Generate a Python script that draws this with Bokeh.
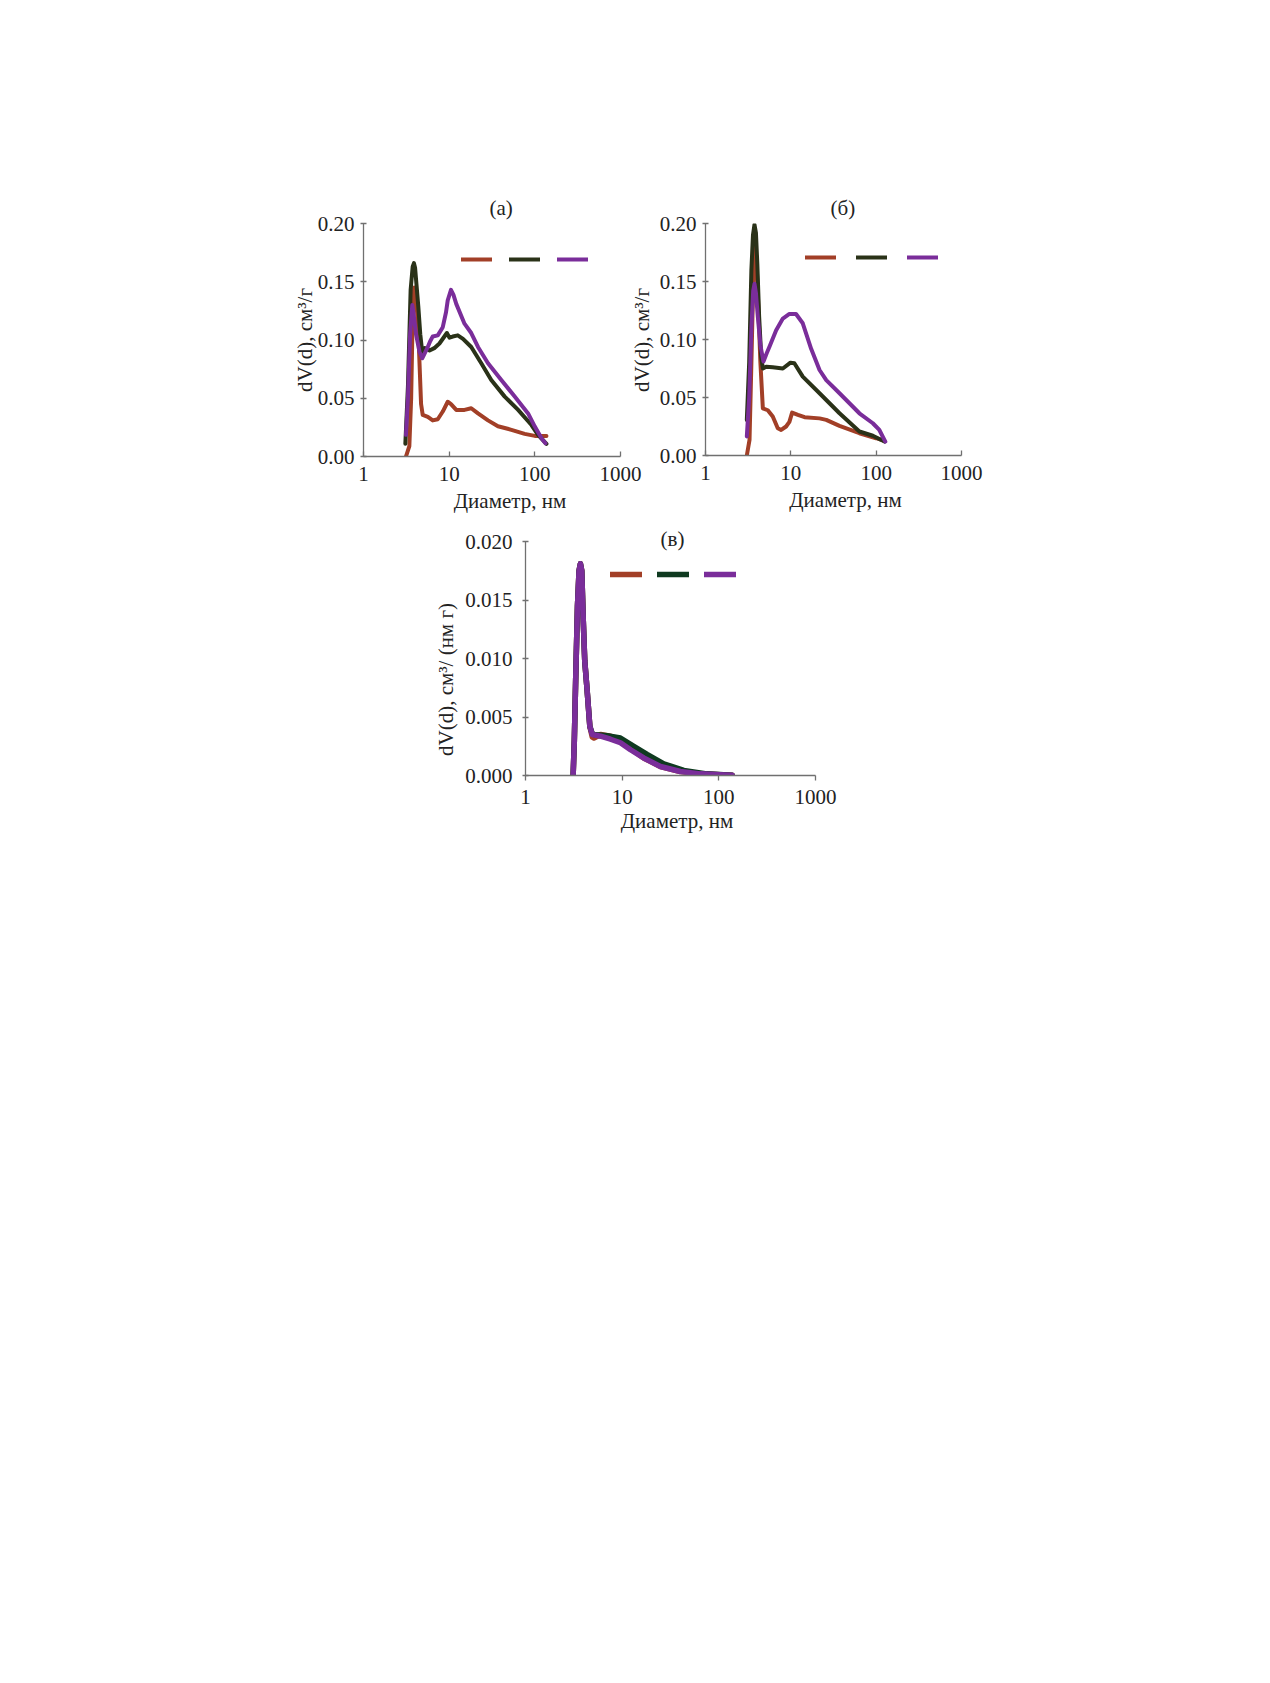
import math
from bokeh.plotting import figure
from bokeh.layouts import column, row, Spacer
from bokeh.models import (Label, Legend, LegendItem, FixedTicker,
                          PrintfTickFormatter, Range1d)
from bokeh.embed import file_html
from bokeh.resources import INLINE

FONT = "Liberation Serif"
RED = "#a23f27"
DARK = "#2a3218"
PURPLE = "#7a2d9a"
DARKGREEN = "#0f3a20"
TEXT = "#222222"
AXIS = "#707070"

# ---------------- data: panel (а) ----------------
a_red_d = [3.13, 3.43, 3.6, 3.75, 3.9, 4.1, 4.4, 4.7, 4.91, 5.63, 6.43, 7.36, 8.42, 9.62, 10.5, 12.1, 15.1, 18.1, 21.7, 28.4, 37.1, 53.3, 76.1, 100, 136.7]
a_red_v = [0.0, 0.009, 0.05, 0.12, 0.145, 0.14, 0.10, 0.045, 0.0357, 0.034, 0.031, 0.032, 0.0386, 0.047, 0.045, 0.040, 0.040, 0.0414, 0.037, 0.031, 0.026, 0.0229, 0.0194, 0.0177, 0.0177]

a_blk_d = [3.08, 3.3, 3.55, 3.75, 3.88, 4.0, 4.15, 4.36, 4.6, 4.86, 5.2, 5.9, 6.7, 7.7, 8.8, 9.4, 10.1, 11.0, 12.6, 14.5, 18.1, 23.7, 31.0, 44.5, 63.8, 91.4, 109, 136.7]
a_blk_v = [0.011, 0.06, 0.143, 0.163, 0.166, 0.162, 0.148, 0.129, 0.105, 0.0886, 0.093, 0.091, 0.093, 0.097, 0.103, 0.106, 0.102, 0.103, 0.104, 0.101, 0.094, 0.080, 0.0657, 0.0514, 0.040, 0.027, 0.0186, 0.0109]

a_pur_d = [3.13, 3.3, 3.5, 3.71, 3.85, 4.1, 4.5, 4.85, 5.3, 5.63, 6.0, 6.43, 7.36, 8.42, 9.2, 9.62, 10.5, 11.2, 12.1, 15.1, 18.1, 21.7, 28.4, 40.6, 58.2, 83.4, 100, 119.6, 133]
a_pur_v = [0.0186, 0.05, 0.105, 0.130, 0.122, 0.105, 0.090, 0.0843, 0.09, 0.094, 0.099, 0.103, 0.104, 0.111, 0.124, 0.134, 0.143, 0.139, 0.131, 0.114, 0.106, 0.094, 0.080, 0.0657, 0.0514, 0.037, 0.0257, 0.0157, 0.0114]

# ---------------- data: panel (б) ----------------
b_red_d = [3.05, 3.28, 3.45, 3.65, 3.8, 3.95, 4.15, 4.4, 4.7, 5.37, 6.14, 7.03, 7.7, 8.8, 9.62, 10.35, 12.1, 14.5, 21.7, 26.0, 37.2, 63.6, 100, 125]
b_red_v = [0.0, 0.0135, 0.08, 0.16, 0.185, 0.17, 0.13, 0.08, 0.0407, 0.039, 0.0336, 0.0235, 0.022, 0.025, 0.029, 0.037, 0.035, 0.033, 0.032, 0.0307, 0.0255, 0.0192, 0.0149, 0.0126]

b_blk_d = [3.05, 3.25, 3.45, 3.6, 3.75, 3.9, 4.05, 4.25, 4.5, 4.7, 5.14, 6.14, 8.06, 9.9, 11.0, 13.8, 21.7, 37.2, 63.6, 91.4, 125]
b_blk_v = [0.0307, 0.08, 0.16, 0.19, 0.199, 0.192, 0.165, 0.12, 0.085, 0.075, 0.0766, 0.076, 0.075, 0.080, 0.0795, 0.068, 0.0537, 0.0364, 0.0207, 0.017, 0.012]

b_pur_d = [3.05, 3.25, 3.45, 3.62, 3.75, 3.9, 4.1, 4.4, 4.78, 5.2, 5.63, 6.73, 8.06, 9.62, 11.5, 13.8, 17.3, 21.7, 26.0, 37.2, 63.6, 91.4, 109, 128]
b_pur_v = [0.0164, 0.05, 0.11, 0.142, 0.148, 0.14, 0.12, 0.095, 0.081, 0.088, 0.094, 0.108, 0.118, 0.122, 0.122, 0.114, 0.092, 0.0737, 0.065, 0.0537, 0.0364, 0.0278, 0.022, 0.012]

# ---------------- data: panel (в) ----------------
c_pur_d = [3.11, 3.2, 3.3, 3.45, 3.58, 3.7, 3.82, 3.95, 4.1, 4.33, 4.63, 4.9, 5.98, 7.58, 9.6, 12.2, 16.7, 24.9, 40.0, 64.5, 103, 137]
c_pur_v = [0.0, 0.003, 0.008, 0.0145, 0.0175, 0.0181, 0.0175, 0.0135, 0.0098, 0.0074, 0.0042, 0.0035, 0.00336, 0.0031, 0.0028, 0.0022, 0.0015, 0.00077, 0.00034, 0.00014, 0.00006, 0.00003]

c_blk_d = [3.11, 3.2, 3.3, 3.45, 3.58, 3.7, 3.82, 3.95, 4.1, 4.33, 4.63, 4.9, 5.1, 7.0, 9.6, 13.2, 18.1, 27.0, 43.4, 75.0, 137]
c_blk_v = [0.0, 0.003, 0.008, 0.0145, 0.0175, 0.0181, 0.0175, 0.0135, 0.0098, 0.0074, 0.0042, 0.0036, 0.0035, 0.0034, 0.0032, 0.0025, 0.0018, 0.0010, 0.00043, 0.00014, 0.00003]

c_red_d = [3.11, 3.2, 3.3, 3.45, 3.58, 3.7, 3.82, 3.95, 4.1, 4.33, 4.63, 4.9, 5.1, 5.98, 7.58, 9.6, 12.2, 16.7, 24.9, 40.0, 64.5, 103, 137]
c_red_v = [0.0, 0.003, 0.008, 0.0145, 0.0175, 0.0181, 0.0175, 0.0135, 0.0098, 0.0074, 0.0042, 0.0033, 0.0032, 0.0035, 0.00336, 0.0030, 0.0023, 0.0015, 0.00077, 0.00034, 0.00014, 0.00006, 0.00003]

x_ticks = [1, 10, 100, 1000]
y_ticks_ab = [0.0, 0.05, 0.10, 0.15, 0.20]
y_ticks_c = [0.0, 0.005, 0.010, 0.015, 0.020]

x_title = "Диаметр, нм"
y_title_ab = "dV(d), см³/г"
y_title_c = "dV(d), см³/ (нм г)"
NB = "\u00a0"


def make_panel(fw, fh, axis_w, ymax, yticks, yfmt, mb_left, mb_right, mb_top, mb_bottom,
               x_in, x_out, x_standoff, x_label_standoff, y_standoff, y_label, y_label_standoff):
    # frame may extend to the right of the x axis (which is bounded to 1..1000)
    xmax = 10 ** (3.0 * fw / axis_w)
    p = figure(x_axis_type="log", x_range=Range1d(1, xmax), y_range=Range1d(0, ymax),
               frame_width=fw, frame_height=fh,
               min_border_left=mb_left, min_border_right=mb_right,
               min_border_top=mb_top, min_border_bottom=mb_bottom,
               output_backend="svg", toolbar_location=None)
    p.outline_line_color = None
    p.grid.visible = False
    p.background_fill_color = "white"
    p.border_fill_color = "white"
    for ax in (p.xaxis[0], p.yaxis[0]):
        ax.axis_line_color = AXIS
        ax.axis_line_width = 1.3
        ax.major_tick_line_color = AXIS
        ax.major_tick_line_width = 1.3
        ax.minor_tick_line_color = None
        ax.major_label_text_font = FONT
        ax.major_label_text_font_size = "21px"
        ax.major_label_text_color = TEXT
        ax.axis_label_text_font = FONT
        ax.axis_label_text_font_size = "21px"
        ax.axis_label_text_font_style = "normal"
        ax.axis_label_text_color = TEXT
    xa = p.xaxis[0]
    xa.bounds = (1, 1000)
    xa.ticker = FixedTicker(ticks=x_ticks)
    xa.formatter = PrintfTickFormatter(format="%d")
    xa.major_tick_in = x_in
    xa.major_tick_out = x_out
    xa.major_label_standoff = x_standoff
    xa.axis_label = x_title
    xa.axis_label_standoff = x_label_standoff
    ya = p.yaxis[0]
    ya.ticker = FixedTicker(ticks=yticks)
    ya.formatter = PrintfTickFormatter(format=yfmt)
    ya.major_tick_in = 3
    ya.major_tick_out = 3
    ya.major_label_standoff = y_standoff
    if y_label is not None:
        ya.axis_label = y_label
        ya.axis_label_standoff = y_label_standoff
    return p


def add_curves(p, series, lw, leg_x, leg_y, leg_glyph, leg_spacing):
    items = []
    for d, v, col in series:
        r = p.line(d, v, line_color=col, line_width=lw, line_cap="round", line_join="round")
        items.append(LegendItem(label=" ", renderers=[r]))
    leg = Legend(items=items, orientation="horizontal", location=(leg_x, leg_y),
                 glyph_width=leg_glyph, glyph_height=20, label_width=0, label_height=20,
                 label_standoff=0, spacing=leg_spacing, padding=0, margin=0,
                 border_line_color=None, background_fill_alpha=0,
                 label_text_font_size="1px")
    p.add_layout(leg)


def set_title(p, text, offset, standoff):
    p.title.text = text
    p.title.align = "left"
    p.title.offset = offset
    p.title.standoff = standoff
    p.title.text_font = FONT
    p.title.text_font_size = "21px"
    p.title.text_font_style = "normal"
    p.title.text_color = TEXT


# panel (а): frame 363..656 (axis 1..1000 over 257 px)
pa = make_panel(293, 233, 257, 0.20, y_ticks_ab, "%.2f", 100, 0, 40, 64,
                5, 0, 10, 5, 6, y_title_ab, -2)
add_curves(pa, [(a_red_d, a_red_v, RED), (a_blk_d, a_blk_v, DARK), (a_pur_d, a_pur_v, PURPLE)],
           4, 98, 187, 31, 17)
set_title(pa, "(а)", 126, 8)
# y label of panel (б), placed in the gap between the two panels
pa.add_layout(Label(x=278, y=116.5, x_units="screen", y_units="screen", text=y_title_ab,
                    angle=math.pi / 2, text_font=FONT, text_font_size="21px",
                    text_color=TEXT, text_align="center", text_baseline="middle"))

# panel (б): frame 703..983 (axis 1..1000 over 256 px)
pb = make_panel(280, 232, 256, 0.20, y_ticks_ab, "%.2f", 47, 6, 40, 65,
                5, 0, 10, 5, 6, None, 0)
add_curves(pb, [(b_red_d, b_red_v, RED), (b_blk_d, b_blk_v, DARK), (b_pur_d, b_pur_v, PURPLE)],
           4, 100, 188, 31, 20)
set_title(pb, "(б)", 125, 8)

# panel (в): frame 525..828 (axis 1..1000 over 290 px)
pc = make_panel(303, 234, 290, 0.020, y_ticks_c, "%.3f", 100, 20, 21, 65,
                0, 5, 9, 2, 10, y_title_c + NB * 8, 4)
add_curves(pc, [(c_red_d, c_red_v, RED), (c_blk_d, c_blk_v, DARKGREEN), (c_pur_d, c_pur_v, PURPLE)],
           5.5, 85, 191.5, 32, 15)
set_title(pc, "(в)", 135, -19)

layout = column(Spacer(height=183),
                row(Spacer(width=263), pa, pb),
                row(Spacer(width=425), pc))

open("out.html", "w").write(file_html(layout, INLINE))
